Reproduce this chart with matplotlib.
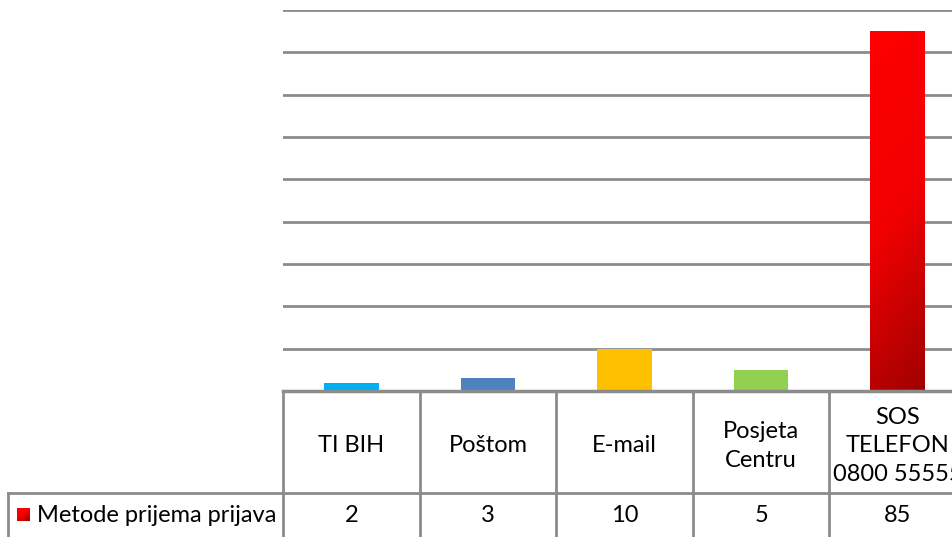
import matplotlib
matplotlib.use("Agg")
import matplotlib.pyplot as plt
import numpy as np
from matplotlib import transforms
from matplotlib.colors import LinearSegmentedColormap

categories = ["TI BIH", "Poštom", "E-mail", "Posjeta\nCentru", "SOS\nTELEFON\n0800 55555"]
values = [2, 3, 10, 5, 85]
value_labels = ["2", "3", "10", "5", "85"]
series_name = "Metode prijema prijava"
colors = ["#00B0F0", "#4F81BD", "#FFC000", "#92D050", "#FF0000"]

W, H = 953, 537
plt.rcParams['font.family'] = ['Lato', 'DejaVu Sans']
fig = plt.figure(figsize=(W / 100, H / 100), dpi=100)

def fy(p):
    return 1 - p / H

def fx(p):
    return p / W

left_px, right_px = 283, 966
top_px, bot_px = 10, 391
ax = fig.add_axes([fx(left_px), fy(bot_px), fx(right_px - left_px), (bot_px - top_px) / H])
x = np.arange(len(categories))
bars = ax.bar(x, values, width=0.4, color=colors, zorder=3)

# gradient for the last bar
red_cmap = LinearSegmentedColormap.from_list("r", ["#FF0000", "#F20000", "#A00000"])
b = bars[-1]
bx0, bw, bh = b.get_x(), b.get_width(), b.get_height()
yy, xx = np.mgrid[0:1:200j, 0:1:50j]
grad = 0.85 * yy + 0.15 * xx
b.set_facecolor("none")
ax.imshow(grad, cmap=red_cmap, extent=[bx0, bx0 + bw, 0, bh], origin="upper",
          aspect="auto", zorder=3, interpolation="bilinear")
ax.set_xlim(-0.5, len(categories) - 0.5)
ax.set_ylim(0, 90)

grid_c = "#8C8C8C"
for g in range(10, 91, 10):
    ax.axhline(g, color=grid_c, lw=2, zorder=1)
for s in ax.spines.values():
    s.set_visible(False)
ax.set_xticks([])
ax.set_yticks([])

# data table
bt = transforms.blended_transform_factory(ax.transData, fig.transFigure)
row1_top, row2_top, row2_bot = 391, 493, 545
fig.add_artist(plt.Line2D([fx(left_px), fx(right_px)], [fy(row1_top)] * 2, color=grid_c, lw=2.5))
fig.add_artist(plt.Line2D([fx(8), fx(right_px)], [fy(row2_top)] * 2, color=grid_c, lw=2))
for xb in np.arange(-0.5, len(categories), 1.0):
    ax.add_line(plt.Line2D([xb, xb], [fy(row1_top), fy(row2_bot)], transform=bt,
                           color=grid_c, lw=2, clip_on=False))
fig.add_artist(plt.Line2D([fx(8), fx(8)], [fy(row2_top), fy(row2_bot)], color=grid_c, lw=2))

fs = 17
for i, (c, v) in enumerate(zip(categories, value_labels)):
    ax.text(i, fy(446), c, transform=bt, ha="center", va="center",
            fontsize=fs, linespacing=1.45, clip_on=False)
    ax.text(i, fy(516), v, transform=bt, ha="center", va="center", fontsize=fs, clip_on=False)

# legend key
kax = fig.add_axes([fx(17), fy(521), fx(13), 13 / H])
ky, kx = np.mgrid[0:1:20j, 0:1:20j]
kax.imshow(0.6 * ky + 0.4 * kx, cmap=red_cmap, aspect="auto", interpolation="bilinear")
kax.axis("off")
fig.text(fx(37), fy(516), series_name, ha="left", va="center", fontsize=fs)

fig.savefig("out.png", dpi=100)
